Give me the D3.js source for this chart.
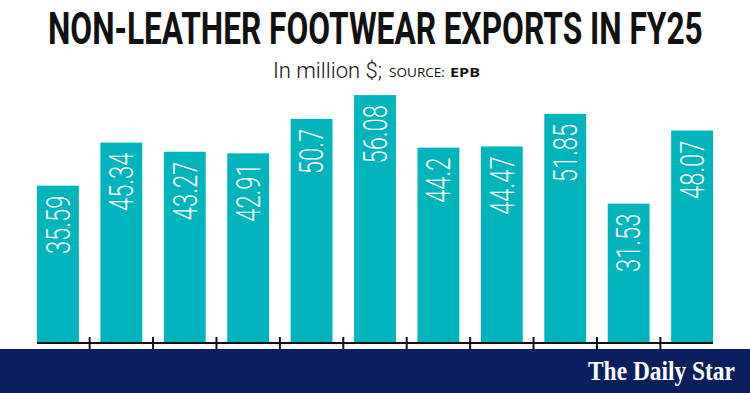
<!DOCTYPE html>
<html>
<head>
<meta charset="utf-8">
<script src="https://cdn.jsdelivr.net/npm/d3@7"></script>
<style>
  html, body { margin: 0; padding: 0; background: #fff; }
  svg { display: block; }
</style>
</head>
<body>
<svg id="chart" width="750" height="393"></svg>
<script>
// ---- data ----
const categories = ["Jul", "Aug", "Sep", "Oct", "Nov", "Dec", "Jan", "Feb", "Mar", "Apr", "May"];
const values = [35.59, 45.34, 43.27, 42.91, 50.7, 56.08, 44.2, 44.47, 51.85, 31.53, 48.07];
const valueLabels = ["35.59", "45.34", "43.27", "42.91", "50.7", "56.08", "44.2", "44.47", "51.85", "31.53", "48.07"];
const titleText = "NON-LEATHER FOOTWEAR EXPORTS IN FY25";
const unitText = "In million $;";
const sourceLabel = "SOURCE:";
const sourceName = "EPB";
const brandText = "The Daily Star";

const svg = d3.select("#chart");
const W = 750, H = 393;
const baseY = 343;

const x = d3.scaleBand().domain(categories).range([37, 713]).paddingInner(0.34).paddingOuter(0);
const y = d3.scaleLinear().domain([0, 60]).range([baseY, baseY - 60 * 4.42]);

// place a text whose left edge is at (x0, y0) and squeeze it horizontally to the given width
function fitted(parent, str, x0, y0, width, attrs) {
  const g = parent.append("g");
  const t = g.append("text").attr("x", 0).attr("y", 0).text(str);
  Object.entries(attrs).forEach(([k, v]) => t.attr(k, v));
  const natural = t.node().getComputedTextLength();
  const s = width / natural;
  g.attr("transform", `translate(${x0},${y0}) scale(${s},1)`);
  return t;
}

// title
fitted(svg, titleText, 48, 43.5, 655, {
  "font-family": "Roboto, sans-serif", "font-weight": 700, "font-size": 44, "fill": "#111"
});

// subtitle
fitted(svg, unitText, 273, 77.5, 109, {
  "font-family": "Roboto, sans-serif", "font-weight": 300, "font-size": 22, "fill": "#111"
});
fitted(svg, sourceLabel, 389, 77, 56, {
  "font-family": "'Open Sans', sans-serif", "font-size": 12, "fill": "#111"
});
fitted(svg, sourceName, 450, 77, 30, {
  "font-family": "'Open Sans', sans-serif", "font-weight": 700, "font-size": 12, "fill": "#111"
});

// bars
svg.append("g").selectAll("rect")
  .data(values)
  .join("rect")
  .attr("x", (d, i) => x(categories[i]))
  .attr("y", d => y(d))
  .attr("width", x.bandwidth())
  .attr("height", d => baseY - y(d))
  .attr("fill", "#00b4bd");

// value labels (vertical)
const capH = 23.5;
svg.append("g").selectAll("text")
  .data(values)
  .join("text")
  .attr("transform", (d, i) => {
    const cx = x(categories[i]) + x.bandwidth() / 2 + capH / 2;
    const ty = y(d) + 10;
    return `translate(${cx},${ty}) rotate(-90) scale(0.72,1)`;
  })
  .attr("text-anchor", "end")
  .attr("font-family", "Roboto, sans-serif")
  .attr("font-weight", 300)
  .attr("font-size", 33)
  .attr("fill", "#ffffff")
  .text((d, i) => valueLabels[i]);

// axis line
const gap = x.step() - x.bandwidth();
svg.append("line")
  .attr("x1", x.range()[0]).attr("x2", x.range()[1])
  .attr("y1", baseY).attr("y2", baseY)
  .attr("stroke", "#111").attr("stroke-width", 2);
svg.append("g").selectAll("line")
  .data(categories.slice(1))
  .join("line")
  .attr("x1", d => x(d) - gap / 2)
  .attr("x2", d => x(d) - gap / 2)
  .attr("y1", baseY - 6).attr("y2", baseY + 6)
  .attr("stroke", "#111").attr("stroke-width", 2);

// footer band
svg.append("rect")
  .attr("x", 0).attr("y", 349).attr("width", W).attr("height", H - 349)
  .attr("fill", "#0b1f5e");
fitted(svg, brandText, 588, 380, 147, {
  "font-family": "'Liberation Serif', 'DejaVu Serif', serif", "font-weight": 700, "font-size": 27, "fill": "#ffffff"
});
</script>
</body>
</html>
